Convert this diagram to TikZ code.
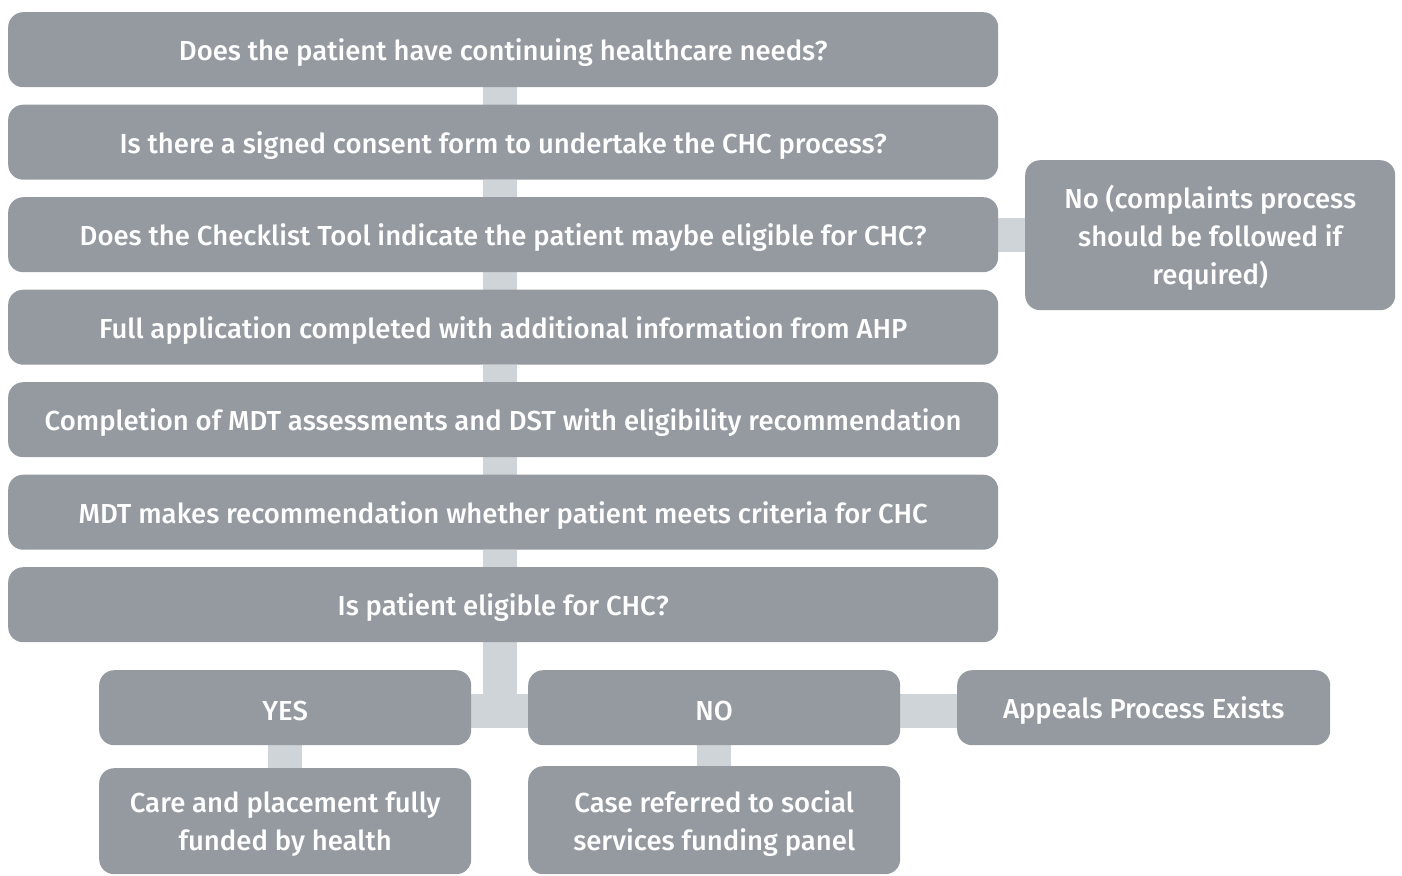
\documentclass[tikz,border=0pt]{standalone}
\usepackage{fontspec}
\setmainfont{Fira Sans}[UprightFont={* Medium}]
\usetikzlibrary{backgrounds}
\definecolor{boxgray}{HTML}{949AA0}
\definecolor{conngray}{HTML}{CFD4D8}
\tikzset{
  box/.style={rectangle, rounded corners=15pt, fill=boxgray, inner sep=0pt, anchor=north west},
  lab/.style={text=white, inner sep=0pt, align=center, yshift=-3pt, font=\fontsize{27.5}{38}\selectfont},
  conn/.style={draw=conngray, line width=34pt},
}
\begin{document}
\begin{tikzpicture}[x=1pt,y=-1pt]
\useasboundingbox (0,0) rectangle (1402,875);
\node[box, minimum width=990pt, minimum height=75pt, label={[lab]center:Does the patient have continuing healthcare needs?}] (n1) at (8,12) {};
\node[box, minimum width=990pt, minimum height=75pt, label={[lab]center:Is there a signed consent form to undertake the CHC process?}] (n2) at (8,104.5) {};
\node[box, minimum width=990pt, minimum height=75pt, label={[lab]center:Does the Checklist Tool indicate the patient maybe eligible for CHC?}] (n3) at (8,197) {};
\node[box, minimum width=990pt, minimum height=75pt, label={[lab]center:Full application completed with additional information from AHP}] (n4) at (8,289.5) {};
\node[box, minimum width=990pt, minimum height=75pt, label={[lab]center:Completion of MDT assessments and DST with eligibility recommendation}] (n5) at (8,382) {};
\node[box, minimum width=990pt, minimum height=75pt, label={[lab]center:MDT makes recommendation whether patient meets criteria for CHC}] (n6) at (8,474.5) {};
\node[box, minimum width=990pt, minimum height=75pt, label={[lab]center:Is patient eligible for CHC?}] (n7) at (8,567) {};
\node[box, minimum width=370pt, minimum height=150pt, label={[lab]center:{No (complaints process\\should be followed if\\required)}}] (cp) at (1025,160) {};
\node[box, minimum width=372pt, minimum height=75pt, label={[lab]center:YES}] (yes) at (99,670) {};
\node[box, minimum width=372pt, minimum height=75pt, label={[lab]center:NO}] (no) at (528,670) {};
\node[box, minimum width=373pt, minimum height=75pt, label={[lab]center:Appeals Process Exists}] (ap) at (957,670) {};
\node[box, minimum width=372pt, minimum height=106pt, label={[lab]center:{Care and placement fully\\funded by health}}] (care) at (99,768) {};
\node[box, minimum width=372pt, minimum height=108pt, label={[lab]center:{Case referred to social\\services funding panel}}] (soc) at (528,766) {};
\begin{scope}[on background layer]
\draw[conn] ([xshift=-3pt]n1.south) -- ([xshift=-3pt]n2.north);
\draw[conn] ([xshift=-3pt]n2.south) -- ([xshift=-3pt]n3.north);
\draw[conn] ([xshift=-3pt]n3.south) -- ([xshift=-3pt]n4.north);
\draw[conn] ([xshift=-3pt]n4.south) -- ([xshift=-3pt]n5.north);
\draw[conn] ([xshift=-3pt]n5.south) -- ([xshift=-3pt]n6.north);
\draw[conn] ([xshift=-3pt]n6.south) -- ([xshift=-3pt]n7.north);
\draw[conn] ([xshift=-3pt]n7.south) -- ([xshift=-3pt,yshift=3pt]n7.south |- yes.center);
\draw[conn] ([yshift=-3pt]yes.east) -- ([yshift=-3pt]no.west);
\draw[conn] ([yshift=-3pt]no.east) -- ([yshift=-3pt]ap.west);
\draw[conn] (n3.east) -- (n3.east -| cp.west);
\draw[conn] (yes.south) -- (care.north);
\draw[conn] (no.south) -- (soc.north);
\end{scope}
\end{tikzpicture}
\end{document}
